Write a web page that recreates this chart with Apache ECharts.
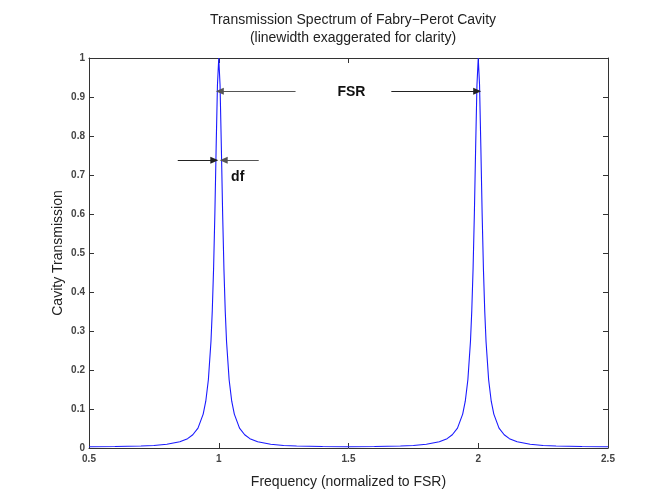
<!DOCTYPE html>
<html>
<head>
<meta charset="utf-8">
<script src="https://cdn.jsdelivr.net/npm/echarts@6/dist/echarts.min.js"></script>
<style>html,body{margin:0;padding:0;background:#fff;}#c{width:652px;height:494px;}</style>
</head>
<body>
<div id="c"></div>
<script>
// Frequency (normalized to FSR) sample positions
var freq = [
  0.5, 0.6, 0.7, 0.75, 0.8, 0.85, 0.88, 0.9, 0.92, 0.94, 0.95, 0.96, 0.97, 0.975, 0.98, 0.985, 0.99, 0.995,
  1.0,
  1.005, 1.01, 1.015, 1.02, 1.025, 1.03, 1.04, 1.05, 1.06, 1.08, 1.1, 1.12, 1.15, 1.2, 1.25, 1.3, 1.4,
  1.5,
  1.6, 1.7, 1.75, 1.8, 1.85, 1.88, 1.9, 1.92, 1.94, 1.95, 1.96, 1.97, 1.975, 1.98, 1.985, 1.99, 1.995,
  2.0,
  2.005, 2.01, 2.015, 2.02, 2.025, 2.03, 2.04, 2.05, 2.06, 2.08, 2.1, 2.12, 2.15, 2.2, 2.25, 2.3, 2.4,
  2.5
];
// Cavity transmission values
var transmission = [
  0.0033, 0.0037, 0.0051, 0.0066, 0.0096, 0.0159, 0.024, 0.034, 0.051, 0.087, 0.120, 0.175, 0.273, 0.351, 0.458, 0.600, 0.772, 0.931,
  1.0,
  0.931, 0.772, 0.600, 0.458, 0.351, 0.273, 0.175, 0.120, 0.087, 0.051, 0.034, 0.024, 0.0159, 0.0096, 0.0066, 0.0051, 0.0037,
  0.0033,
  0.0037, 0.0051, 0.0066, 0.0096, 0.0159, 0.024, 0.034, 0.051, 0.087, 0.120, 0.175, 0.273, 0.351, 0.458, 0.600, 0.772, 0.931,
  1.0,
  0.931, 0.772, 0.600, 0.458, 0.351, 0.273, 0.175, 0.120, 0.087, 0.051, 0.034, 0.024, 0.0159, 0.0096, 0.0066, 0.0051, 0.0037,
  0.0033
];
var xTicks = [0.5, 1, 1.5, 2, 2.5];
var yTicks = [0, 0.1, 0.2, 0.3, 0.4, 0.5, 0.6, 0.7, 0.8, 0.9, 1];

// Annotation anchors (data coordinates)
var fsrLeft = [[1.296, 0.915], [1.004, 0.915]];
var fsrRight = [[1.665, 0.915], [1.996, 0.915]];
var dfLeft = [[0.842, 0.738], [0.983, 0.738]];
var dfRight = [[1.154, 0.738], [1.019, 0.738]];
var fsrLabelPos = [1.5115, 0.913];
var dfLabelPos = [1.073, 0.695];

var FONT = 'Liberation Sans, Arial, sans-serif';
var data = freq.map(function (f, i) { return [f, transmission[i]]; });

var axisLineStyle = { color: '#333', width: 1 };
var chart = echarts.init(document.getElementById('c'), null, { renderer: 'canvas' });

function arrow(seg, color) {
  return [{ coord: seg[0], symbol: 'none', lineStyle: { color: color } }, { coord: seg[1], symbol: 'triangle' }];
}

chart.setOption({
  animation: false,
  backgroundColor: '#ffffff',
  title: {
    text: 'Transmission Spectrum of Fabry\u2212Perot Cavity\n(linewidth exaggerated for clarity)',
    left: 348, top: 6, textAlign: 'center',
    textStyle: { fontFamily: FONT, fontSize: 14, fontWeight: 'normal', color: '#222', lineHeight: 18 }
  },
  grid: { left: 89, right: 44, top: 58, bottom: 46, containLabel: false },
  xAxis: [{
    type: 'value', min: 0.5, max: 2.5, interval: 0.5, position: 'bottom',
    name: 'Frequency (normalized to FSR)', nameLocation: 'middle', nameGap: 27, nameMoveOverlap: false,
    nameTextStyle: { fontFamily: FONT, fontSize: 14, color: '#222' },
    axisLine: { show: true, onZero: false, lineStyle: axisLineStyle },
    axisTick: { show: true, inside: true, length: 5, lineStyle: axisLineStyle },
    axisLabel: { fontFamily: FONT, fontSize: 10, fontWeight: 'bold', color: '#444', margin: 6,
      formatter: function (v) { return String(v); } },
    splitLine: { show: false }
  }, {
    type: 'value', min: 0.5, max: 2.5, interval: 0.5, position: 'top',
    axisLine: { show: true, onZero: false, lineStyle: axisLineStyle },
    axisTick: { show: true, inside: true, length: 5, lineStyle: axisLineStyle },
    axisLabel: { show: false }, splitLine: { show: false }
  }],
  yAxis: [{
    type: 'value', min: 0, max: 1, interval: 0.1, position: 'left',
    name: 'Cavity Transmission', nameLocation: 'middle', nameGap: 24, nameRotate: 90, nameMoveOverlap: false,
    nameTextStyle: { fontFamily: FONT, fontSize: 14, color: '#222' },
    axisLine: { show: true, onZero: false, lineStyle: axisLineStyle },
    axisTick: { show: true, inside: true, length: 5, lineStyle: axisLineStyle },
    axisLabel: { fontFamily: FONT, fontSize: 10, fontWeight: 'bold', color: '#444', margin: 4,
      formatter: function (v) { return String(Math.round(v * 10) / 10); } },
    splitLine: { show: false }
  }, {
    type: 'value', min: 0, max: 1, interval: 0.1, position: 'right',
    axisLine: { show: true, onZero: false, lineStyle: axisLineStyle },
    axisTick: { show: true, inside: true, length: 5, lineStyle: axisLineStyle },
    axisLabel: { show: false }, splitLine: { show: false }
  }],
  series: [{
    type: 'line',
    data: data,
    xAxisIndex: 0, yAxisIndex: 0,
    showSymbol: false, symbol: 'none',
    lineStyle: { color: '#1a1aff', width: 1.1 },
    z: 2,
    markLine: {
      silent: true,
      symbolSize: [7, 8],
      lineStyle: { color: '#222', width: 1, type: 'solid' },
      label: { show: false },
      data: [arrow(fsrLeft, '#555'), arrow(fsrRight, '#222'), arrow(dfLeft, '#222'), arrow(dfRight, '#555')]
    },
    markPoint: {
      silent: true,
      symbol: 'circle', symbolSize: 0,
      data: [
        { coord: fsrLabelPos, label: { show: true, formatter: 'FSR', fontFamily: FONT, fontSize: 14, fontWeight: 'bold', color: '#111', position: 'inside' } },
        { coord: dfLabelPos, label: { show: true, formatter: 'df', fontFamily: FONT, fontSize: 14, fontWeight: 'bold', color: '#111', position: 'inside' } }
      ]
    }
  }]
});
</script>
</body>
</html>
